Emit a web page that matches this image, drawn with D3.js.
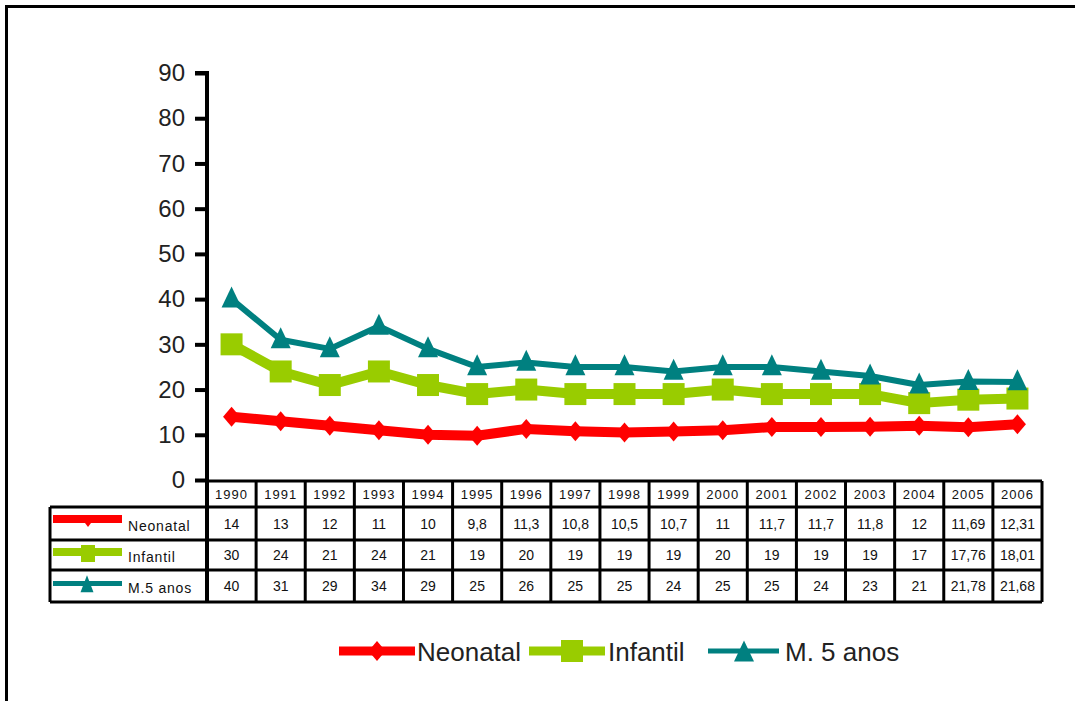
<!DOCTYPE html>
<html>
<head>
<meta charset="utf-8">
<script src="https://cdn.jsdelivr.net/npm/d3@7"></script>
<style>
  html, body { margin: 0; padding: 0; background: #fff; }
  svg { display: block; font-family: Arial, "Liberation Sans", sans-serif; }
</style>
</head>
<body>
<svg id="chart" width="1075" height="701"></svg>
<script>
// Mortality rates per 1000 live births, 1990–2006
const years = ["1990","1991","1992","1993","1994","1995","1996","1997","1998","1999","2000","2001","2002","2003","2004","2005","2006"];
const neonatal = [14, 13, 12, 11, 10, 9.8, 11.3, 10.8, 10.5, 10.7, 11, 11.7, 11.7, 11.8, 12, 11.69, 12.31];
const infantil = [30, 24, 21, 24, 21, 19, 20, 19, 19, 19, 20, 19, 19, 19, 17, 17.76, 18.01];
const menor5 = [40, 31, 29, 34, 29, 25, 26, 25, 25, 24, 25, 25, 24, 23, 21, 21.78, 21.68];
const yTicks = [0, 10, 20, 30, 40, 50, 60, 70, 80, 90];

const series = [
  { name: "Neonatal", table: "Neonatal", values: neonatal, color: "#ff0000", width: 10, symbol: "diamond" },
  { name: "Infantil", table: "Infantil", values: infantil, color: "#99cc00", width: 10, symbol: "square" },
  { name: "M. 5 anos", table: "M.5 anos", values: menor5, color: "#008080", width: 6, symbol: "triangle" }
];

const svg = d3.select("#chart");
const fmt = v => String(v).replace(".", ",");
const FONT = "Arial, 'Liberation Sans', sans-serif";

// outer frame
svg.append("rect").attr("x", 6.5).attr("y", 6.5).attr("width", 1200).attr("height", 800)
  .attr("fill", "none").attr("stroke", "#000").attr("stroke-width", 3);

const x = d3.scaleBand().domain(years).range([207, 1042]);
const y = d3.scaleLinear().domain([0, 90]).range([480, 73]);
const cx = d => x(d) + x.bandwidth() / 2;

// y axis
const yAxis = svg.append("g").attr("transform", "translate(207,0)")
  .call(d3.axisLeft(y).tickValues(yTicks).tickSize(12).tickPadding(10).tickFormat(d3.format("d")));
yAxis.attr("font-family", FONT);
yAxis.select(".domain").attr("stroke-width", 4).attr("d", `M-12,${y(90)}H0V${y(0)}`);
yAxis.selectAll(".tick line").attr("stroke-width", 4).attr("x1", -12).attr("x2", 0);
yAxis.selectAll(".tick text").attr("font-size", 24).attr("fill", "#222");

// symbol shapes
function markerPath(type, w, h) {
  if (type === "diamond") return `M0,${-h/2}L${w/2},0L0,${h/2}L${-w/2},0Z`;
  if (type === "square") return `M${-w/2},${-h/2}H${w/2}V${h/2}H${-w/2}Z`;
  return `M0,${-h*0.6}L${w/2},${h*0.4}H${-w/2}Z`;
}
const markerSize = { diamond: [17, 20], square: [22, 22], triangle: [20, 21] };

// lines and markers
const line = d3.line().x((d, i) => cx(years[i])).y(d => y(d));
series.forEach(s => {
  const g = svg.append("g");
  g.append("path").attr("d", line(s.values)).attr("fill", "none")
    .attr("stroke", s.color).attr("stroke-width", s.width).attr("stroke-linejoin", "round");
  const [w, h] = markerSize[s.symbol];
  g.selectAll("path.m").data(s.values).join("path").attr("class", "m")
    .attr("transform", (d, i) => `translate(${cx(years[i])},${y(d)})`)
    .attr("d", markerPath(s.symbol, w, h)).attr("fill", s.color);
});

// data table
const rowTops = [480, 507, 540, 570, 602];
const tbl = svg.append("g");
// year header
tbl.selectAll("text.yr").data(years).join("text").attr("class", "yr")
  .attr("x", d => cx(d)).attr("y", 499).attr("text-anchor", "middle")
  .attr("font-size", 13).attr("letter-spacing", 1).attr("fill", "#111").text(d => d);

// legend keys drawn in the table's first column
const keys = [
  { lineY: 519, lineW: 8, mark: [88, 521, 9, 12] },
  { lineY: 552, lineW: 8, mark: [88, 553.5, 14, 17] },
  { lineY: 583.5, lineW: 5, mark: [87, 585.5, 13, 17] }
];
const textY = [531, 562, 593];

series.forEach((s, r) => {
  const mid = (rowTops[r + 1] + rowTops[r + 2]) / 2;
  tbl.selectAll(null).data(s.values).join("text")
    .attr("x", (d, i) => cx(years[i])).attr("y", mid + 5).attr("text-anchor", "middle")
    .attr("font-size", 14).attr("fill", "#111").text(d => fmt(d));
  const k = keys[r];
  tbl.append("line").attr("x1", 53).attr("x2", 122).attr("y1", k.lineY).attr("y2", k.lineY)
    .attr("stroke", s.color).attr("stroke-width", k.lineW);
  const [mx, my, mw, mh] = k.mark;
  tbl.append("path").attr("transform", `translate(${mx},${my})`)
    .attr("d", markerPath(s.symbol, mw, mh)).attr("fill", s.color);
  tbl.append("text").attr("x", 128).attr("y", textY[r]).attr("font-size", 14)
    .attr("letter-spacing", 0.8).attr("fill", "#111").text(s.table);
});
// grid lines
const gl = tbl.append("g").attr("stroke", "#000").attr("stroke-width", 3);
gl.append("line").attr("x1", 207).attr("x2", 1042).attr("y1", 481).attr("y2", 481);
rowTops.slice(1).forEach(t => {
  gl.append("line").attr("x1", 50).attr("x2", 1042).attr("y1", t).attr("y2", t);
});
x.domain().forEach(d => {
  gl.append("line").attr("x1", x(d) + x.bandwidth()).attr("x2", x(d) + x.bandwidth())
    .attr("y1", 481).attr("y2", 602);
});
gl.append("line").attr("x1", 207).attr("x2", 207).attr("y1", 480).attr("y2", 602).attr("stroke-width", 4);
gl.append("line").attr("x1", 50).attr("x2", 50).attr("y1", 507).attr("y2", 602);

// bottom legend
const legend = svg.append("g");
const legendItems = [
  { s: series[0], x1: 339, x2: 415, mx: 377, tx: 417 },
  { s: series[1], x1: 529, x2: 605, mx: 572, tx: 608 },
  { s: series[2], x1: 708, x2: 779, mx: 744, tx: 785 }
];
legendItems.forEach(it => {
  const ly = 651;
  legend.append("line").attr("x1", it.x1).attr("x2", it.x2).attr("y1", ly).attr("y2", ly)
    .attr("stroke", it.s.color).attr("stroke-width", it.s.symbol === "triangle" ? 5 : 9);
  const [w, h] = markerSize[it.s.symbol];
  legend.append("path").attr("transform", `translate(${it.mx},${ly + (it.s.symbol === "triangle" ? 2 : 0)})`)
    .attr("d", markerPath(it.s.symbol, w, h)).attr("fill", it.s.color);
  legend.append("text").attr("x", it.tx).attr("y", 661).attr("font-size", 26)
    .attr("fill", "#222").text(it.s.name);
});
</script>
</body>
</html>
